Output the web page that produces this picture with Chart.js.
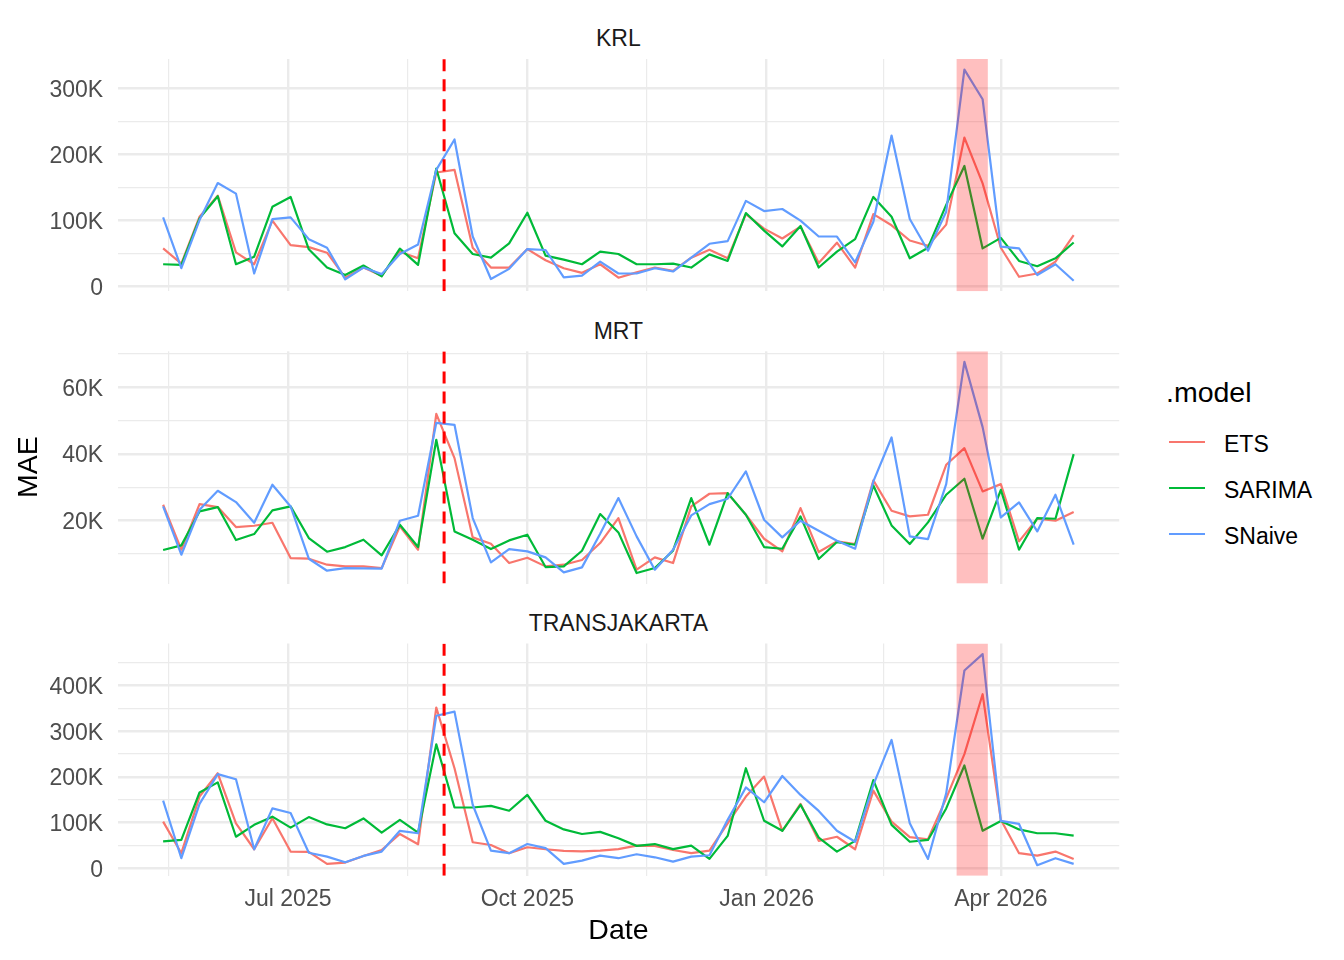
<!DOCTYPE html>
<html>
<head>
<meta charset="utf-8">
<script src="https://cdn.jsdelivr.net/npm/chart.js@4.4.1/dist/chart.umd.min.js"></script>
<style>
html,body{margin:0;padding:0;background:#ffffff;}
body{width:1344px;height:960px;position:relative;overflow:hidden;font-family:'Liberation Sans',Arial,Helvetica,sans-serif;}
.panel{position:absolute;left:0;width:1130px;}
.strip{position:absolute;left:117.6px;width:1001.6px;text-align:center;font-size:23px;line-height:1;color:#1a1a1a;white-space:nowrap;}
.ytitle{position:absolute;left:-23px;top:450.4px;width:100px;height:34px;line-height:34px;text-align:center;font-size:28.5px;color:#000;transform:rotate(-90deg);}
.legtitle{position:absolute;left:1166px;top:377.6px;font-size:28.5px;line-height:1;color:#000;white-space:nowrap;}
.legkey{position:absolute;left:1169px;width:36px;height:2.2px;}
.legtext{position:absolute;left:1224px;font-size:23px;line-height:1;color:#000;white-space:nowrap;}
</style>
</head>
<body>
<div class="strip" style="top:27.2px">KRL</div>
<div class="strip" style="top:319.5px">MRT</div>
<div class="strip" style="top:611.7px">TRANSJAKARTA</div>
<div class="panel" style="top:29px;height:292px"><canvas id="c1"></canvas></div>
<div class="panel" style="top:321px;height:292px"><canvas id="c2"></canvas></div>
<div class="panel" style="top:613px;height:347px"><canvas id="c3"></canvas></div>
<div class="ytitle">MAE</div>
<div class="legtitle">.model</div>
<div class="legkey" style="top:440.6px;background:#F8766D"></div>
<div class="legkey" style="top:487.2px;background:#00BA38"></div>
<div class="legkey" style="top:532.9px;background:#619CFF"></div>
<div class="legtext" style="top:433px">ETS</div>
<div class="legtext" style="top:479.2px">SARIMA</div>
<div class="legtext" style="top:525.4px">SNaive</div>
<script>
// ---------- data ----------
const weeks = ['2025-05-14','2025-05-21','2025-05-28','2025-06-04','2025-06-11','2025-06-18','2025-06-25',
 '2025-07-02','2025-07-09','2025-07-16','2025-07-23','2025-07-30','2025-08-06','2025-08-13','2025-08-20',
 '2025-08-27','2025-09-03','2025-09-10','2025-09-17','2025-09-24','2025-10-01','2025-10-08','2025-10-15',
 '2025-10-22','2025-10-29','2025-11-05','2025-11-12','2025-11-19','2025-11-26','2025-12-03','2025-12-10',
 '2025-12-17','2025-12-24','2025-12-31','2026-01-07','2026-01-14','2026-01-21','2026-01-28','2026-02-04',
 '2026-02-11','2026-02-18','2026-02-25','2026-03-04','2026-03-11','2026-03-18','2026-03-25','2026-04-01',
 '2026-04-08','2026-04-15','2026-04-22','2026-04-29'];

const models = ['ETS','SARIMA','SNaive'];
const modelColors = ['#F8766D','#00BA38','#619CFF'];

const krlETS = [58000,35000,106000,138000,52000,34000,100000,63000,60000,51500,13600,29000,16700,53000,43000,173000,177000,59000,29000,29000,57000,40000,28000,21000,34000,13600,21700,29000,24000,44000,56000,43000,110000,88000,73000,91000,36000,66700,29000,110000,93000,70000,62000,94000,226000,156600,59000,15000,20000,38000,78000];
const krlSARIMA = [34000,33000,103500,137000,34000,45500,121000,136000,56600,29000,17700,32000,15700,57600,33000,179000,81000,49500,44000,65700,112000,47000,41000,34000,53000,49500,34000,34000,35000,29000,49000,39000,111600,85000,61000,92000,29000,53000,72000,136000,106000,43000,59000,124000,183000,58000,74000,39000,31000,43000,67000];
const krlSNaive = [105000,28000,101000,157000,141000,20000,102500,105000,72000,59000,11000,29000,19000,49500,64000,177000,223000,76000,11600,27000,57000,55600,14000,16700,38000,20000,20000,28000,23000,44000,65000,69000,130000,114600,117700,100000,76000,76000,37000,98500,229000,102500,54500,113600,329000,284000,60600,58000,17700,34000,9000];

const mrtETS = [24700,11200,24900,24000,18000,18400,19300,8700,8500,6700,6200,6200,5700,18200,11200,52000,38700,14900,13000,7200,8800,6200,6700,8100,13200,20700,5200,8900,7200,24200,28000,28200,21700,14500,10700,23700,10500,13700,12900,32000,22900,21200,21700,36700,41700,28700,30900,13700,20500,19900,22500];
const mrtSARIMA = [11100,12500,22700,24000,14100,15900,23000,24200,14700,10600,12000,14200,9500,18700,12000,44200,16700,14200,11400,14000,15700,6000,6200,10900,21900,16400,4200,5700,10900,26700,12700,28200,21700,12000,11500,21200,8400,13500,12700,30500,18500,12900,19400,27700,32500,14500,29200,11200,20700,20500,39900];
const mrtSNaive = [24200,9700,23200,28900,25500,19300,30700,24200,8500,4900,5700,5600,5500,19900,21400,49300,48700,20700,7400,11400,10700,8900,4400,5900,16000,26700,15200,5200,11200,21500,24900,26500,34700,20200,14900,19900,16900,13900,11500,31700,44900,15200,14400,30900,67600,48000,20900,25400,16700,27700,12700];

const tjETS = [102000,33000,157000,208000,98500,41600,109500,36500,35800,9500,12400,27000,40000,75000,52600,352000,219000,57000,51000,33000,46000,41600,38000,37000,38700,42000,49600,49000,40000,33000,38700,98500,157000,200700,82000,141000,60000,69000,41600,170000,102000,68000,63500,153000,250000,381000,106000,33000,27700,36500,20400];
const tjSARIMA = [59000,62000,166000,188000,69000,95000,113000,89000,112000,96000,87600,109000,78000,106000,78000,271500,133000,133000,136500,126000,160600,104000,85000,75000,79600,65700,49000,53000,42000,49600,20400,70800,219000,104000,82000,139000,67000,36500,60000,193000,95000,58000,62000,131000,225000,82000,103600,85000,76600,76600,71500];
const tjSNaive = [148000,22000,141000,206000,195000,41600,131000,121000,34000,25500,13000,27000,36500,82000,76600,334000,343000,139000,38700,33000,53000,44000,9500,16800,27700,22000,30700,24000,14600,25500,28500,106000,177000,144500,202000,160600,125500,82000,58000,182500,281000,98500,20400,164000,433000,469000,103600,97000,6600,22000,9500];

// ---------- ticks / markers ----------
const xMajorBreaks = ['2025-07-01','2025-10-01','2026-01-01','2026-04-01'];
const xMajorLabels = ['Jul 2025','Oct 2025','Jan 2026','Apr 2026'];
const xMinorBreaks = ['2025-05-16','2025-08-16','2025-11-16','2026-02-15'];

const krlTicks = [0,50000,100000,150000,200000,250000,300000];
const krlMajor = [0,100000,200000,300000];
const mrtTicks = [10000,20000,30000,40000,50000,60000,70000];
const mrtMajor = [20000,40000,60000];
const tjTicks = [0,50000,100000,150000,200000,250000,300000,350000,400000,450000];
const tjMajor = [0,100000,200000,300000,400000];

const cutoffDate = '2025-08-30';
const eventStart = '2026-03-15';
const eventEnd = '2026-03-27';

// ---------- helpers ----------
const FONT = "'Liberation Sans', Arial, Helvetica, sans-serif";
const dayNum = s => Date.parse(s) / 86400000;
const xs = weeks.map(dayNum);
const xSpan = xs[xs.length - 1] - xs[0];
const xMin = xs[0] - 0.05 * xSpan;
const xMax = xs[xs.length - 1] + 0.05 * xSpan;
const xMajorDays = xMajorBreaks.map(dayNum);
const xMinorDays = xMinorBreaks.map(dayNum);
const xTickDays = xMajorDays.concat(xMinorDays).sort((a, b) => a - b);
const fmtK = v => v === 0 ? '0' : (v / 1000) + 'K';

const overlayPlugin = {
  id: 'overlay',
  afterDatasetsDraw(chart) {
    const {ctx, chartArea: a, scales: {x}} = chart;
    ctx.save();
    ctx.beginPath();
    ctx.rect(a.left, a.top, a.right - a.left, a.bottom - a.top);
    ctx.clip();
    const x0 = x.getPixelForValue(dayNum(eventStart));
    const x1 = x.getPixelForValue(dayNum(eventEnd));
    ctx.fillStyle = 'rgba(255,0,0,0.25)';
    ctx.fillRect(x0, a.top, x1 - x0, a.bottom - a.top);
    const xd = x.getPixelForValue(dayNum(cutoffDate));
    ctx.strokeStyle = '#FF0000';
    ctx.lineWidth = 3;
    ctx.setLineDash([12, 8]);
    ctx.beginPath();
    ctx.moveTo(xd, a.bottom);
    ctx.lineTo(xd, a.top);
    ctx.stroke();
    ctx.restore();
  }
};

function makePanel(id, seriesList, yTicks, yMajor, showX, padTop, padBottom) {
  let lo = Infinity, hi = -Infinity;
  seriesList.forEach(s => s.forEach(v => { lo = Math.min(lo, v); hi = Math.max(hi, v); }));
  const yMin = lo - 0.05 * (hi - lo);
  const yMax = hi + 0.05 * (hi - lo);
  const majorSet = new Set(yMajor);
  const xMajorSet = new Set(xMajorDays);
  const datasets = seriesList.map((s, i) => ({
    label: models[i],
    data: s.map((v, j) => ({x: xs[j], y: v})),
    borderColor: modelColors[i],
    backgroundColor: modelColors[i],
    borderWidth: 2.2,
    pointRadius: 0,
    pointHoverRadius: 0,
    tension: 0,
    borderJoinStyle: 'round',
    fill: false,
    order: 3 - i
  }));
  return new Chart(document.getElementById(id), {
    type: 'line',
    data: {datasets},
    plugins: [overlayPlugin],
    options: {
      responsive: true,
      maintainAspectRatio: false,
      animation: false,
      events: [],
      layout: {padding: {left: 0, right: 10.8, top: padTop, bottom: padBottom}},
      plugins: {legend: {display: false}, tooltip: {enabled: false}, title: {display: false}},
      scales: {
        x: {
          type: 'linear',
          min: xMin,
          max: xMax,
          afterBuildTicks: s => { s.ticks = xTickDays.map(v => ({value: v})); },
          afterFit: s => { s.height = showX ? 72.5 : 0; s.paddingLeft = 0; s.paddingRight = 0; },
          ticks: {
            display: showX,
            autoSkip: false,
            maxRotation: 0,
            padding: 10,
            color: '#4D4D4D',
            font: {family: FONT, size: 23},
            callback: v => { const k = xMajorDays.indexOf(v); return k >= 0 ? xMajorLabels[k] : ''; }
          },
          grid: {
            color: '#EBEBEB',
            lineWidth: c => (c.tick && xMajorSet.has(c.tick.value)) ? 2.4 : 1.2,
            drawTicks: false
          },
          border: {display: false},
          title: {display: showX, text: 'Date', color: '#000000', font: {family: FONT, size: 28.5}, padding: {top: 0, bottom: 0}}
        },
        y: {
          type: 'linear',
          min: yMin,
          max: yMax,
          afterBuildTicks: s => { s.ticks = yTicks.map(v => ({value: v})); },
          afterFit: s => { s.width = 117.6; s.paddingTop = 0; s.paddingBottom = 0; },
          ticks: {
            autoSkip: false,
            padding: 14.5,
            labelOffset: 2,
            color: '#4D4D4D',
            font: {family: FONT, size: 23},
            callback: v => majorSet.has(v) ? fmtK(v) : ''
          },
          grid: {
            color: '#EBEBEB',
            lineWidth: c => (c.tick && majorSet.has(c.tick.value)) ? 2.4 : 1.2,
            drawTicks: false
          },
          border: {display: false}
        }
      }
    }
  });
}

makePanel('c1', [krlETS, krlSARIMA, krlSNaive], krlTicks, krlMajor, false, 30, 29.7);
makePanel('c2', [mrtETS, mrtSARIMA, mrtSNaive], mrtTicks, mrtMajor, false, 30.3, 29.4);
makePanel('c3', [tjETS, tjSARIMA, tjSNaive], tjTicks, tjMajor, true, 30.5, 11.7);
</script>
</body>
</html>
